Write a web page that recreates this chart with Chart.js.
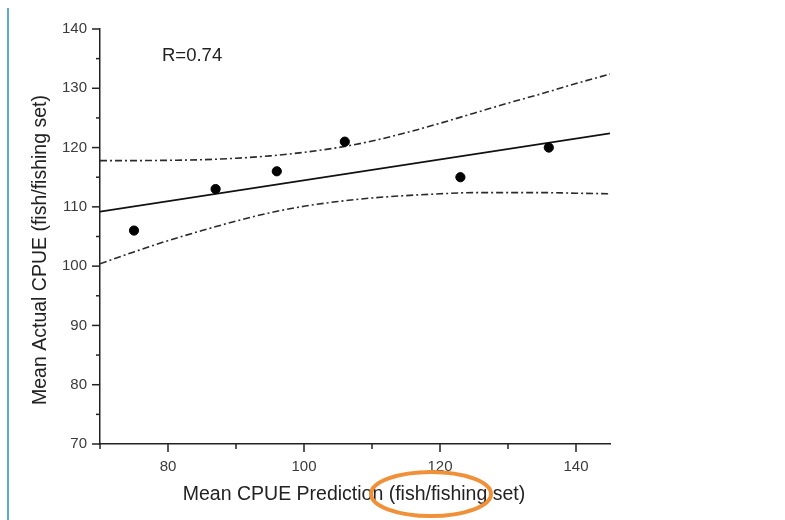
<!DOCTYPE html>
<html lang="en">

<head>
  <meta charset="UTF-8" />
  <title>CPUE prediction vs actual</title>
  <style>
    body {
      margin: 0;
      background: #fff;
    }

    .wrap {
      position: relative;
      width: 785px;
      height: 520px;
    }

    .side-rule {
      position: absolute;
      left: 7px;
      top: 8px;
      width: 2px;
      height: 512px;
      background: #5aa8de;
    }
  </style>
  <script src="https://cdn.jsdelivr.net/npm/chart.js"></script>
</head>

<body>
  <div class="wrap">
    <div class="side-rule"></div>
    <canvas id="chart" width="785" height="520"></canvas>
  </div>
</body>

</html>
<script>
  // observed points
  const predX = [75, 87, 96, 106, 123, 136];
  const actualY = [106, 113, 116, 121, 115, 120];

  // fitted line
  const fitX = [70, 145];
  const fitY = [109.2, 122.4];

  // confidence band
  const bandX = [70, 75, 80, 85, 90, 95, 100, 105, 110, 115, 120, 125, 130, 135, 140, 145];
  const upperY = [117.8, 117.8, 117.85, 117.95, 118.2, 118.6, 119.2, 120.0, 121.1, 122.5, 124.1, 125.8, 127.5, 129.1, 130.8, 132.4];
  const lowerY = [100.4, 102.4, 104.3, 106.0, 107.6, 109.0, 110.1, 110.9, 111.5, 111.9, 112.2, 112.4, 112.4, 112.4, 112.3, 112.2];

  const xTicks = [80, 100, 120, 140];
  const yTicks = [70, 80, 90, 100, 110, 120, 130, 140];

  const rText = "R=0.74";
  const xTitle = "Mean CPUE Prediction (fish/fishing set)";
  const yTitle = "Mean Actual CPUE (fish/fishing set)";

  const FONT = "'Liberation Sans', Arial, sans-serif";

  const zip = (xs, ys) => xs.map((x, i) => ({ x: x, y: ys[i] }))

  // tick marks (major + minor), axis titles and the ring around the unit
  const decor = {
    id: "decor",
    afterDraw(chart) {
      const ctx = chart.ctx;
      const xs = chart.scales.x;
      const ys = chart.scales.y;
      const area = chart.chartArea;
      ctx.save();
      ctx.strokeStyle = "#222";
      ctx.lineWidth = 1.5;
      for (let v = 70; v <= 140; v += 5) {
        const py = ys.getPixelForValue(v);
        const len = yTicks.includes(v) ? 8 : 4;
        ctx.beginPath();
        ctx.moveTo(area.left - len, py);
        ctx.lineTo(area.left, py);
        ctx.stroke();
      }
      for (let v = 70; v <= 140; v += 10) {
        const px = xs.getPixelForValue(v);
        const len = xTicks.includes(v) ? 8 : 5;
        ctx.beginPath();
        ctx.moveTo(px, area.bottom);
        ctx.lineTo(px, area.bottom + len);
        ctx.stroke();
      }

      ctx.fillStyle = "#222";
      ctx.font = "18.5px " + FONT;
      ctx.textAlign = "left";
      ctx.textBaseline = "alphabetic";
      ctx.fillText(rText, 162, 61);

      ctx.font = "19.5px " + FONT;
      ctx.textAlign = "center";
      ctx.textBaseline = "middle";
      ctx.fillText(xTitle, 354, 495);
      ctx.translate(41, 250);
      ctx.rotate(-Math.PI / 2);
      ctx.fillText(yTitle, 0, 0);
      ctx.restore();

      ctx.save();
      ctx.strokeStyle = "#f0913a";
      ctx.lineWidth = 4;
      ctx.beginPath();
      ctx.ellipse(431, 494, 60, 22, 0, 0, Math.PI * 2);
      ctx.stroke();
      ctx.restore();
    }
  }

  const bandStyle = {
    type: "line",
    borderColor: "#2a2a2a",
    borderWidth: 1.6,
    borderDash: [7, 3, 2, 3],
    pointRadius: 0,
    cubicInterpolationMode: "monotone",
    fill: false
  }

  new Chart(document.querySelector("#chart"), {
    type: "scatter",
    data: {
      datasets: [{
        data: zip(predX, actualY),
        backgroundColor: "#000",
        borderColor: "#000",
        pointRadius: 4.6
      }, {
        type: "line",
        data: zip(fitX, fitY),
        borderColor: "#111",
        borderWidth: 1.8,
        pointRadius: 0
      },
      { ...bandStyle, data: zip(bandX, upperY) },
      { ...bandStyle, data: zip(bandX, lowerY) }
      ]
    },
    options: {
      responsive: false,
      animation: false,
      events: [],
      layout: { padding: { left: 0, top: 29, right: 175, bottom: 0 } },
      plugins: {
        legend: { display: false },
        tooltip: { enabled: false }
      },
      scales: {
        x: {
          type: "linear",
          min: 70,
          max: 145,
          afterFit(scale) { scale.height = 76 },
          grid: { drawOnChartArea: false, drawTicks: false },
          border: { display: true, color: "#222", width: 1.5 },
          ticks: {
            stepSize: 10,
            includeBounds: false,
            autoSkip: false,
            maxRotation: 0,
            padding: 14,
            color: "#3a3a3a",
            font: { family: FONT, size: 15 },
            callback: (v) => xTicks.includes(v) ? String(v) : ""
          }
        },
        y: {
          type: "linear",
          min: 70,
          max: 140,
          afterFit(scale) { scale.width = 100 },
          grid: { drawOnChartArea: false, drawTicks: false },
          border: { display: true, color: "#222", width: 1.5 },
          ticks: {
            stepSize: 10,
            autoSkip: false,
            padding: 13,
            color: "#3a3a3a",
            font: { family: FONT, size: 15 },
            callback: (v) => yTicks.includes(v) ? String(v) : ""
          }
        }
      }
    },
    plugins: [decor]
  })
</script>
